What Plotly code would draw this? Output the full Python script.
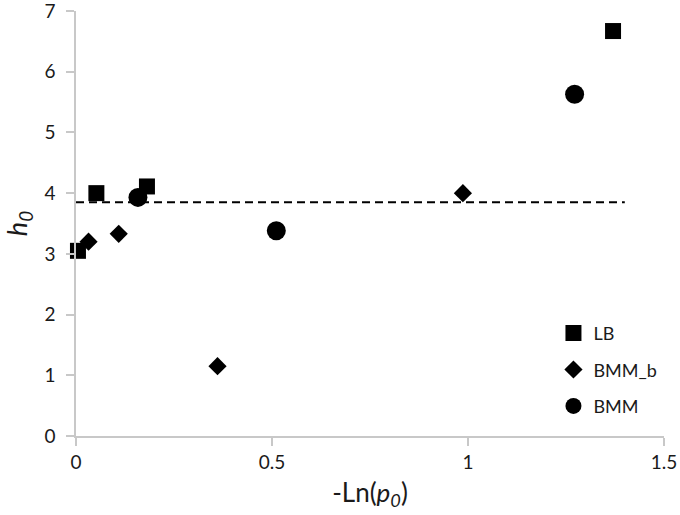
import plotly.graph_objects as go

# Data
lb_x = [0.005, 0.052, 0.181, 1.370]
lb_y = [3.05, 4.00, 4.11, 6.67]

bmmb_x = [0.032, 0.109, 0.361, 0.987]
bmmb_y = [3.20, 3.33, 1.15, 4.00]

bmm_x = [0.158, 0.511, 1.272]
bmm_y = [3.93, 3.38, 5.63]

ref_x = [0.0, 1.4]
ref_y = [3.85, 3.85]

x_ticks = [0, 0.5, 1, 1.5]
x_ticktext = ["0", "0.5", "1", "1.5"]
y_ticks = [0, 1, 2, 3, 4, 5, 6, 7]

FONT = "Lato"

fig = go.Figure()
fig.add_trace(go.Scatter(x=ref_x, y=ref_y, mode="lines", showlegend=False,
                         line=dict(color="black", width=2, dash="8px,5px"),
                         hoverinfo="skip", cliponaxis=False))
fig.add_trace(go.Scatter(x=lb_x, y=lb_y, mode="markers", name="LB", legendgroup="a",
                         marker=dict(symbol="square", size=16, color="black"), cliponaxis=False))
fig.add_trace(go.Scatter(x=bmmb_x, y=bmmb_y, mode="markers", name="BMM_b", legendgroup="b",
                         marker=dict(symbol="diamond", size=14, color="black"), cliponaxis=False))
fig.add_trace(go.Scatter(x=bmm_x, y=bmm_y, mode="markers", name="BMM", legendgroup="c",
                         marker=dict(symbol="circle", size=19, color="black"), cliponaxis=False))

axis_common = dict(showgrid=False, zeroline=False, showline=True, linecolor="#c8c8c8",
                   linewidth=1.5, ticks="outside", ticklen=8, tickcolor="#c8c8c8",
                   tickwidth=1.5, automargin=False, ticklabeloverflow="allow",
                   tickfont=dict(family=FONT, size=19, color="#1a1a1a"))

fig.update_layout(
    width=680, height=515,
    margin=dict(l=76, r=16, t=11, b=79),
    paper_bgcolor="white", plot_bgcolor="white",
    font=dict(family=FONT, color="#1a1a1a"),
    xaxis=dict(range=[0, 1.5], tickvals=x_ticks, ticktext=x_ticktext,
               title=dict(text="-Ln(<i>p</i><sub><i>0</i></sub>)", font=dict(family=FONT, size=26),
                          standoff=12),
               **axis_common),
    yaxis=dict(range=[0, 7], tickvals=y_ticks, ticklabelstandoff=7,
               title=dict(text="<i>h</i><sub><i>0</i></sub>", font=dict(family=FONT, size=27),
                          standoff=10),
               **axis_common),
    legend=dict(x=0.812, y=0.285, xanchor="left", yanchor="top", tracegroupgap=10,
                font=dict(family=FONT, size=18, color="#1a1a1a"), bgcolor="rgba(0,0,0,0)"),
    showlegend=True,
)

fig.write_html("out.html", config={"displayModeBar": False},
               post_script="document.body.style.margin='0';document.body.style.overflow='hidden';")
